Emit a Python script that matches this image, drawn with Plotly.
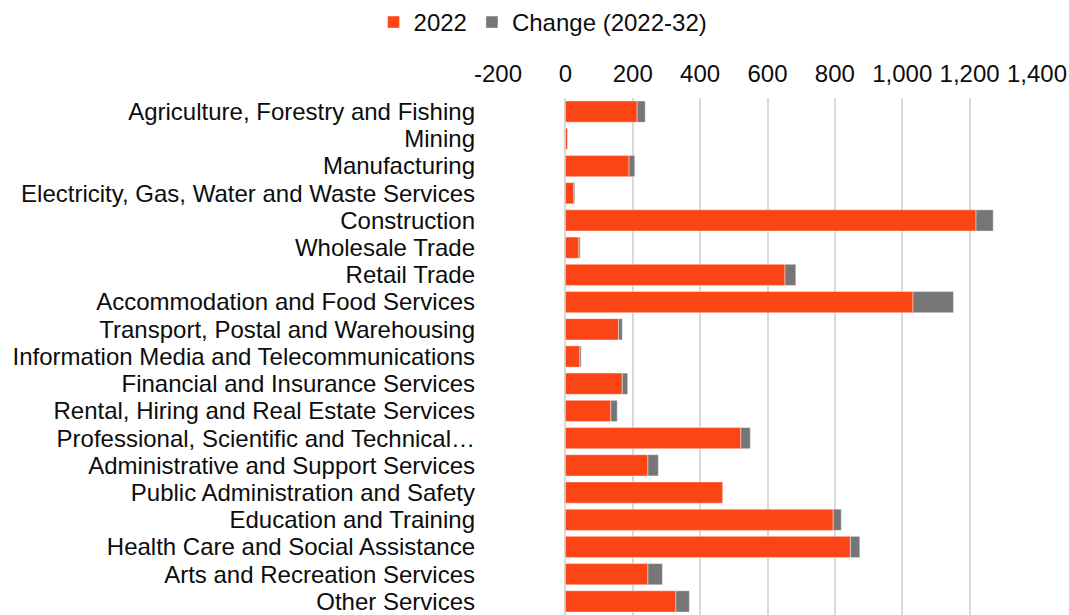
import plotly.graph_objects as go

categories = [
    "Agriculture, Forestry and Fishing",
    "Mining",
    "Manufacturing",
    "Electricity, Gas, Water and Waste Services",
    "Construction",
    "Wholesale Trade",
    "Retail Trade",
    "Accommodation and Food Services",
    "Transport, Postal and Warehousing",
    "Information Media and Telecommunications",
    "Financial and Insurance Services",
    "Rental, Hiring and Real Estate Services",
    "Professional, Scientific and Technical\u2026",
    "Administrative and Support Services",
    "Public Administration and Safety",
    "Education and Training",
    "Health Care and Social Assistance",
    "Arts and Recreation Services",
    "Other Services",
]
values_2022 = [213, 6, 189, 25, 1219, 40, 652, 1032, 158, 43, 169, 135, 521, 245, 467, 795, 846, 245, 328]
change_2022_32 = [24, -2, 17, 3, 51, 4, 32, 120, 11, 4, 16, 19, 28, 31, -3, 24, 28, 43, 40]
tick_vals = [-200, 0, 200, 400, 600, 800, 1000, 1200, 1400]
tick_text = ["-200", "0", "200", "400", "600", "800", "1,000", "1,200", "1,400"]

fig = go.Figure()
fig.add_trace(go.Bar(
    y=categories, x=values_2022, orientation="h", name="2022",
    marker=dict(color="#FC4514", line=dict(color="rgba(255,255,255,0.6)", width=0.7)),
))
fig.add_trace(go.Bar(
    y=categories, x=change_2022_32, orientation="h", name="Change (2022-32)",
    marker=dict(color="#767676", line=dict(color="rgba(255,255,255,0.6)", width=0.7)),
))

fig.update_layout(
    barmode="relative",
    bargap=0.22,
    width=1069, height=615,
    margin=dict(l=498, r=32, t=98, b=0),
    paper_bgcolor="white", plot_bgcolor="white",
    font=dict(family="Liberation Sans, Arial, sans-serif", size=24, color="#0d0d0d"),
    legend=dict(
        orientation="h", xref="container", yref="container",
        x=0.508, xanchor="center", y=1.0, yanchor="top",
        font=dict(size=24), itemwidth=30, traceorder="normal",
    ),
    showlegend=True,
)
fig.update_xaxes(
    side="top", range=[-200, 1400], tickvals=tick_vals, ticktext=tick_text,
    showgrid=True, gridcolor="#d9d9d9", gridwidth=1.5,
    zeroline=True, zerolinecolor="#d9d9d9", zerolinewidth=1.5,
    showline=False, ticks="", ticklabelstandoff=10,
)
fig.update_yaxes(
    autorange="reversed", showgrid=False, showline=False, ticks="",
    tickmode="array", tickvals=categories, ticktext=categories,
    ticklabelstandoff=22,
)

fig.write_html(
    "out.html",
    config={"displayModeBar": False},
    post_script="document.body.style.margin='0';document.body.style.overflow='hidden';",
)
